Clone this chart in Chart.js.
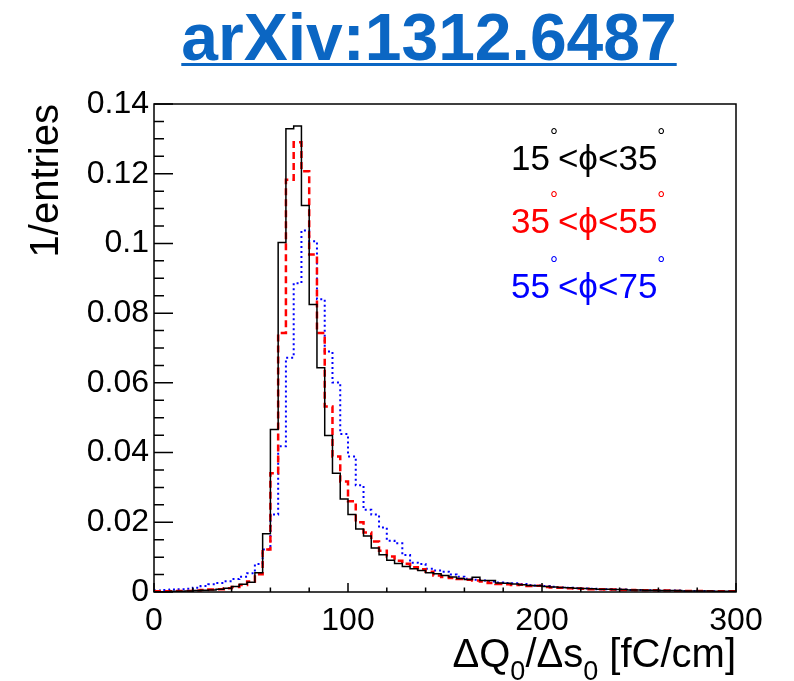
<!DOCTYPE html>
<html>
<head>
<meta charset="utf-8">
<script src="https://cdn.jsdelivr.net/npm/chart.js@4.4.1/dist/chart.umd.min.js"></script>
<style>
  html, body { margin: 0; padding: 0; background: #fff; }
  canvas { display: block; }
</style>
</head>
<body>
<canvas id="dqdsChart" width="794" height="681"></canvas>
<script>
// histogram binning: 75 bins of 4 fC/cm from 0 to 300
const binWidth = 4;
const xMin = 0;
const xMax = 300;

// normalised entries per bin
const phi15to35 = [
  0.0001, 0.0001, 0.0002, 0.0002, 0.0003, 0.0004, 0.0005, 0.0006, 0.0008, 0.0011,
  0.0016, 0.0022, 0.0028, 0.0055, 0.0167, 0.0466, 0.1003, 0.1329, 0.1337, 0.1109,
  0.0825, 0.0643, 0.0449, 0.0341, 0.0267, 0.0222, 0.0181, 0.0161, 0.0126, 0.0107,
  0.0091, 0.0082, 0.0073, 0.0067, 0.0062, 0.0055, 0.0052, 0.0047, 0.0043, 0.0039,
  0.0036, 0.0042, 0.0033, 0.0033, 0.0026, 0.0025, 0.0023, 0.0021, 0.0019, 0.0018,
  0.0016, 0.0014, 0.0013, 0.0012, 0.0011, 0.0010, 0.0009, 0.0008, 0.0008, 0.0007,
  0.0007, 0.0006, 0.0006, 0.0005, 0.0005, 0.0004, 0.0004, 0.0004, 0.0003, 0.0003,
  0.0003, 0.0003, 0.0002, 0.0002, 0.0002
];
const phi35to55 = [
  0.0002, 0.0002, 0.0002, 0.0003, 0.0003, 0.0004, 0.0006, 0.0007, 0.0008, 0.0011,
  0.0014, 0.0020, 0.0030, 0.0051, 0.0122, 0.0341, 0.0743, 0.1183, 0.1290, 0.1207,
  0.0968, 0.0743, 0.0532, 0.0389, 0.0317, 0.0260, 0.0200, 0.0171, 0.0145, 0.0118,
  0.0102, 0.0090, 0.0081, 0.0071, 0.0065, 0.0058, 0.0047, 0.0043, 0.0040, 0.0037,
  0.0035, 0.0033, 0.0030, 0.0026, 0.0023, 0.0022, 0.0020, 0.0021, 0.0017, 0.0018,
  0.0014, 0.0013, 0.0012, 0.0011, 0.0010, 0.0009, 0.0008, 0.0008, 0.0007, 0.0007,
  0.0006, 0.0006, 0.0005, 0.0005, 0.0005, 0.0004, 0.0004, 0.0003, 0.0003, 0.0003,
  0.0003, 0.0002, 0.0002, 0.0002, 0.0002
];
const phi55to75 = [
  0.0004, 0.0006, 0.0007, 0.0008, 0.0009, 0.0012, 0.0017, 0.0022, 0.0026, 0.0031,
  0.0037, 0.0044, 0.0054, 0.0080, 0.0122, 0.0222, 0.0418, 0.0672, 0.0886, 0.1037,
  0.1006, 0.0840, 0.0690, 0.0601, 0.0453, 0.0389, 0.0306, 0.0236, 0.0222, 0.0185,
  0.0147, 0.0140, 0.0106, 0.0084, 0.0080, 0.0067, 0.0062, 0.0058, 0.0050, 0.0044,
  0.0038, 0.0035, 0.0033, 0.0030, 0.0027, 0.0026, 0.0025, 0.0023, 0.0020, 0.0019,
  0.0017, 0.0015, 0.0013, 0.0012, 0.0011, 0.0010, 0.0009, 0.0008, 0.0008, 0.0007,
  0.0007, 0.0006, 0.0006, 0.0005, 0.0005, 0.0004, 0.0004, 0.0004, 0.0003, 0.0003,
  0.0003, 0.0003, 0.0002, 0.0002, 0.0002
];

const legendRanges = [["15", "35"], ["35", "55"], ["55", "75"]];
const seriesColors = ["#000000", "#ff0000", "#0000ff"];

const titleText = "arXiv:1312.6487";
const yTitle = "1/entries";

const FONT = "'Liberation Sans', Arial, Helvetica, sans-serif";

// ------------------- Helper Functions -------------------

// turn bin contents into step points (left bin edges + closing point)
function toSteps(values) {
  const pts = values.map((v, i) => ({ x: xMin + i * binWidth, y: v }));
  pts.push({ x: xMax, y: values[values.length - 1] });
  return pts;
}

function histDataset(values, color, width, dash) {
  return {
    data: toSteps(values),
    borderColor: color,
    borderWidth: width,
    borderDash: dash,
    stepped: "before", // horizontal at the bin value, then jump at the next edge
    pointRadius: 0,
    fill: false,
    tension: 0,
  };
}

// ROOT-like frame, inward ticks, titles and legend text
const rootDecor = {
  id: "rootDecor",
  afterDraw(chart) {
    const { ctx, chartArea: a, scales: { x, y } } = chart;
    ctx.save();

    // frame
    ctx.strokeStyle = "#000";
    ctx.lineWidth = 1.5;
    ctx.strokeRect(a.left, a.top, a.right - a.left, a.bottom - a.top);

    // y ticks: major 0.02, minor 0.005
    ctx.beginPath();
    for (let i = 0; i <= 28; i++) {
      const py = y.getPixelForValue(i * 0.005);
      const len = i % 4 === 0 ? 19 : 10;
      ctx.moveTo(a.left, py);
      ctx.lineTo(a.left + len, py);
    }
    // x ticks: major 100, minor 20
    for (let i = 0; i <= 15; i++) {
      const px = x.getPixelForValue(i * 20);
      const len = i % 5 === 0 ? 9 : 4.5;
      ctx.moveTo(px, a.bottom);
      ctx.lineTo(px, a.bottom - len);
    }
    ctx.stroke();

    // title
    ctx.fillStyle = "#0b66c3";
    ctx.font = "bold 66px " + FONT;
    ctx.textAlign = "center";
    ctx.textBaseline = "alphabetic";
    ctx.fillText(titleText, 429, 60);
    const tw = ctx.measureText(titleText).width;
    ctx.fillRect(429 - tw / 2, 63, tw, 3);

    // y axis title
    ctx.fillStyle = "#000";
    ctx.save();
    ctx.translate(58, 104);
    ctx.rotate(-Math.PI / 2);
    ctx.font = "40px " + FONT;
    ctx.textAlign = "right";
    ctx.fillText(yTitle, 0, 0);
    ctx.restore();

    // x axis title: ΔQ0/Δs0 [fC/cm], right aligned at the frame edge
    const parts = [
      ["\u0394Q", false], ["0", true], ["/\u0394s", false], ["0", true], [" [fC/cm]", false],
    ];
    const mainFont = "40px " + FONT;
    const subFont = "27px " + FONT;
    let total = 0;
    parts.forEach(([t, sub]) => {
      ctx.font = sub ? subFont : mainFont;
      total += ctx.measureText(t).width;
    });
    let cx = a.right - total;
    ctx.textAlign = "left";
    parts.forEach(([t, sub]) => {
      ctx.font = sub ? subFont : mainFont;
      ctx.fillText(t, cx, sub ? 680 : 667);
      cx += ctx.measureText(t).width;
    });

    // legend text: lo°<ϕ<hi°
    const baselines = [170, 233, 298];
    legendRanges.forEach(([lo, hi], k) => {
      ctx.fillStyle = seriesColors[k];
      const base = baselines[k];
      let lx = 511;
      const pieces = [[lo, false], ["\u00b0", true], ["<\u03d5<" + hi, false], ["\u00b0", true]];
      pieces.forEach(([t, deg]) => {
        ctx.font = deg ? "20px " + FONT : "35px " + FONT;
        ctx.fillText(t, lx, deg ? base - 27 : base);
        lx += ctx.measureText(t).width;
      });
    });

    ctx.restore();
  },
};

// ------------------- Chart -------------------

new Chart(document.getElementById("dqdsChart"), {
  type: "line",
  data: {
    datasets: [
      histDataset(phi15to35, seriesColors[0], 1.5, []),
      histDataset(phi35to55, seriesColors[1], 2.5, [7, 4]),
      histDataset(phi55to75, seriesColors[2], 2, [2, 3]),
    ],
  },
  options: {
    responsive: false,
    animation: false,
    layout: { padding: { left: 0, right: 58, top: 104, bottom: 0 } },
    plugins: { legend: { display: false }, tooltip: { enabled: false } },
    scales: {
      x: {
        type: "linear",
        min: xMin,
        max: xMax,
        grid: { display: false, drawTicks: false },
        border: { display: false },
        ticks: {
          stepSize: 100,
          maxRotation: 0,
          padding: 10,
          color: "#000",
          font: { family: FONT, size: 32 },
        },
        afterFit(scale) { scale.height = 89; },
      },
      y: {
        min: 0,
        max: 0.14,
        grid: { display: false, drawTicks: false },
        border: { display: false },
        ticks: {
          stepSize: 0.02,
          padding: 5,
          color: "#000",
          font: { family: FONT, size: 32 },
          callback: (v) => String(Number(v.toFixed(2))),
        },
        afterFit(scale) { scale.width = 154; },
      },
    },
  },
  plugins: [rootDecor],
});
</script>
</body>
</html>
